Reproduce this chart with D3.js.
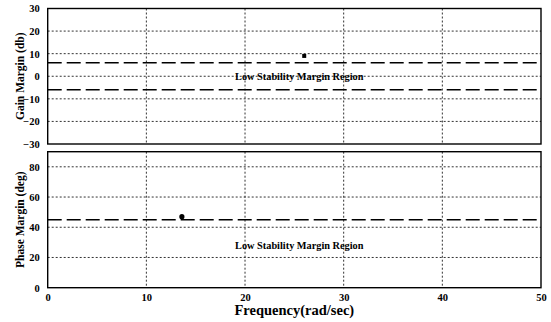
<!DOCTYPE html>
<html>
<head>
<meta charset="utf-8">
<script src="https://cdn.jsdelivr.net/npm/d3@7"></script>
<style>
  body { margin: 0; background: #fff; }
  text { font-family: "Liberation Serif", "Times New Roman", serif; font-weight: bold; fill: #000; }
</style>
</head>
<body>
<svg id="chart" width="551" height="322"></svg>
<script>
const width = 551;
const height = 322;

/* DATA */
const freqTicks = [0, 10, 20, 30, 40, 50];
const gainTicks = [30, 20, 10, 0, -10, -20, -30];
const phaseTicks = [0, 20, 40, 60, 80];
const gainLimits = [6, -6];
const phaseLimits = [45];
const gainPoint = [26, 9];      // [freq, gain margin]
const phasePoint = [13.6, 47];  // [freq, phase margin]
const regionLabel = "Low Stability Margin Region";
const gainLabelPos = [25.5, 0];
const phaseLabelPos = [25.5, 28];

const svg = d3.select("svg#chart");

/* SCALES */
const x = d3.scaleLinear().domain([0, 50]).range([47.7, 541]);
const yGain = d3.scaleLinear().domain([-30, 30]).range([144, 8.5]);
const yPhase = d3.scaleLinear().domain([0, 90]).range([287.7, 151.7]);

drawPanel(yGain, gainTicks, gainLimits, gainPoint, "rect", gainLabelPos, "Gain Margin (db)");
drawPanel(yPhase, phaseTicks, phaseLimits, phasePoint, "circle", phaseLabelPos, "Phase Margin (deg)");

/* X AXIS (bottom panel only) */
const xAxis = d3.axisBottom(x).tickValues(freqTicks).tickSize(0).tickPadding(6);
const xGroup = svg.append("g")
  .attr("transform", translate(0, yPhase.range()[0]))
  .call(xAxis);
xGroup.select(".domain").remove();
xGroup.selectAll("text")
  .style("font-size", "10.5px")
  .style("font-family", "Liberation Serif")
  .style("font-weight", "bold");

svg.append("text")
  .attr("x", midpoint(x.range()))
  .attr("y", 315)
  .attr("text-anchor", "middle")
  .style("font-size", "14.5px")
  .text("Frequency(rad/sec)");


function drawPanel(y, ticks, limits, point, shape, labelPos, title) {
  const g = svg.append("g");
  const [x0, x1] = x.range();
  const [yb, yt] = y.range();

  // dotted grid
  g.selectAll("line.vgrid")
    .data(freqTicks.slice(1, -1))
    .enter().append("line")
    .attr("class", "vgrid")
    .attr("x1", d => x(d)).attr("x2", d => x(d))
    .attr("y1", yt).attr("y2", yb)
    .attr("stroke", "#333").attr("stroke-width", 1)
    .attr("stroke-dasharray", "2,2");

  g.selectAll("line.hgrid")
    .data(ticks.filter(d => y(d) > yt + 1 && y(d) < yb - 1))
    .enter().append("line")
    .attr("class", "hgrid")
    .attr("x1", x0).attr("x2", x1)
    .attr("y1", d => y(d)).attr("y2", d => y(d))
    .attr("stroke", "#333").attr("stroke-width", 1)
    .attr("stroke-dasharray", "2,2");

  // threshold lines
  g.selectAll("line.limit")
    .data(limits)
    .enter().append("line")
    .attr("class", "limit")
    .attr("x1", x0).attr("x2", x1)
    .attr("y1", d => y(d)).attr("y2", d => y(d))
    .attr("stroke", "#000").attr("stroke-width", 1.6)
    .attr("stroke-dasharray", "14,5");

  // frame
  g.append("rect")
    .attr("x", x0).attr("y", yt)
    .attr("width", x1 - x0).attr("height", yb - yt)
    .attr("fill", "none").attr("stroke", "#000").attr("stroke-width", 1.4);

  // y axis labels
  const yAxis = d3.axisLeft(y).tickValues(ticks).tickSize(0).tickPadding(8);
  const yGroup = g.append("g").attr("transform", translate(x0, 0)).call(yAxis);
  yGroup.select(".domain").remove();
  yGroup.selectAll("text")
    .style("font-size", "10.5px")
    .style("font-family", "Liberation Serif")
    .style("font-weight", "bold");

  // region label
  g.append("text")
    .attr("x", x(labelPos[0]))
    .attr("y", y(labelPos[1]))
    .attr("dy", "0.35em")
    .attr("text-anchor", "middle")
    .style("font-size", "10.3px")
    .text(regionLabel);

  // marker
  if (shape === "rect") {
    g.append("rect")
      .attr("x", x(point[0]) - 2).attr("y", y(point[1]) - 2)
      .attr("width", 4).attr("height", 4)
      .attr("fill", "#000");
  } else {
    g.append("circle")
      .attr("cx", x(point[0])).attr("cy", y(point[1]))
      .attr("r", 2.6).attr("fill", "#000");
  }

  // y title
  const tg = g.append("g").attr("transform", translate(24, midpoint(y.range())));
  tg.append("text")
    .attr("transform", "rotate(-90)")
    .attr("text-anchor", "middle")
    .style("font-size", "11.5px")
    .text(title);
}

function midpoint(range) {
  return range[0] + (range[1] - range[0]) / 2.0;
}

function translate(x, y) {
  return 'translate(' + String(x) + ',' + String(y) + ')';
}
</script>
</body>
</html>
